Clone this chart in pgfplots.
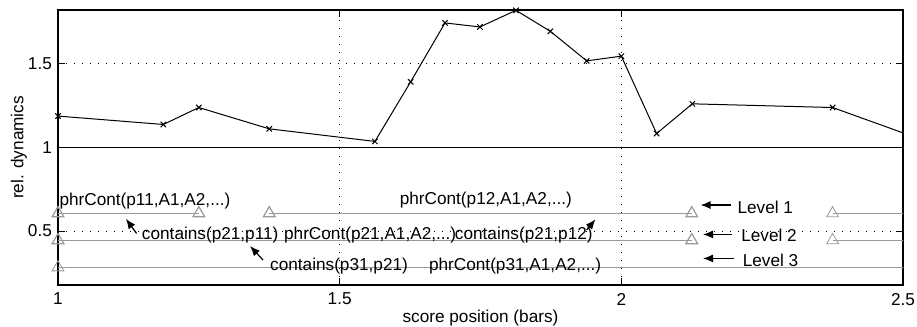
\documentclass[border=0pt]{standalone}
\usepackage{fontspec}
\setmainfont{Liberation Sans}
\usepackage{pgfplots}
\pgfplotsset{compat=1.18}
\usetikzlibrary{arrows.meta}
\definecolor{lgray}{gray}{0.6}
\begin{document}
\fontsize{8.6}{10}\selectfont
\begin{tikzpicture}
\begin{axis}[
  scale only axis, width=422.5pt, height=137.5pt,
  xmin=1, xmax=2.5, ymin=0.1786, ymax=1.817,
  xtick={1,1.5,2,2.5}, ytick={0.5,1,1.5},
  xticklabels={1,1.5,2,2.5}, yticklabels={0.5,1,1.5},
  tick align=inside, major tick length=3.5pt,
  tick style={black, line width=0.5pt},
  axis line style={line width=0.7pt},
  grid=major,
  major grid style={black, line width=0.5pt, dash pattern=on 0.6pt off 3.4pt},
  xlabel={score position (bars)}, ylabel={rel. dynamics},
  tick label style={font=\fontsize{8.6}{10}\selectfont},
  label style={font=\fontsize{8.6}{10}\selectfont},
  xlabel style={at={(axis description cs:0.5,-0.12)}, anchor=center},
  ylabel style={at={(axis description cs:-0.04615,0.5)}, anchor=center},
  xticklabel style={yshift=-1pt},
  /pgf/number format/assume math mode=true,
]
\coordinate (O) at (rel axis cs:0,0);
% reference line at 1
\addplot[black, line width=0.6pt, no marks] coordinates {(1,1) (2.5,1)};
% main curve
\addplot[black, line width=0.5pt, mark=x, mark size=1.9pt] coordinates {
 (1,1.185) (1.187,1.135) (1.25,1.236) (1.375,1.109) (1.5626,1.034)
 (1.626,1.389) (1.687,1.740) (1.749,1.716) (1.813,1.815) (1.874,1.690)
 (1.9385,1.514) (2.0,1.542) (2.0626,1.081) (2.126,1.258) (2.375,1.236)
};
\addplot[black, line width=0.5pt, no marks] coordinates {(2.375,1.236) (2.5,1.085)};
% Level 1
\addplot[lgray, line width=0.6pt, mark=triangle, mark size=3.4pt] coordinates {(1,0.605) (1.25,0.605)};
\addplot[lgray, line width=0.6pt, mark=triangle, mark size=3.4pt] coordinates {(1.375,0.605) (2.125,0.605)};
\addplot[lgray, line width=0.6pt, no marks] coordinates {(2.375,0.605) (2.6,0.605)};
\addplot[lgray, only marks, mark=triangle, mark size=3.4pt] coordinates {(2.375,0.605)};
% Level 2
\addplot[lgray, line width=0.6pt, mark=triangle, mark size=3.4pt] coordinates {(1,0.445) (2.125,0.445)};
\addplot[lgray, line width=0.6pt, no marks] coordinates {(2.375,0.445) (2.6,0.445)};
\addplot[lgray, only marks, mark=triangle, mark size=3.4pt] coordinates {(2.375,0.445)};
% Level 3
\addplot[lgray, line width=0.6pt, no marks] coordinates {(1,0.283) (2.6,0.283)};
\addplot[lgray, only marks, mark=triangle, mark size=3.4pt] coordinates {(1,0.283)};
% annotations
\node[anchor=west, inner sep=0pt] at (axis cs:1.002,0.679) {phrCont(p11,A1,A2,...)};
\node[anchor=west, inner sep=0pt] at (axis cs:1.606,0.685) {phrCont(p12,A1,A2,...)};
\node[anchor=west, inner sep=0pt] at (axis cs:1.1484,0.476) {contains(p21,p11)};
\node[anchor=west, inner sep=0pt] at (axis cs:1.4007,0.476) {phrCont(p21,A1,A2,...)};
\node[anchor=west, inner sep=0pt] at (axis cs:1.704,0.476) {contains(p21,p12)};
\node[anchor=west, inner sep=0pt] at (axis cs:1.376,0.292) {contains(p31,p21)};
\node[anchor=west, inner sep=0pt] at (axis cs:1.658,0.292) {phrCont(p31,A1,A2,...)};
\node[anchor=west, inner sep=0pt] at (axis cs:2.2057,0.639) {Level 1};
\node[anchor=west, inner sep=0pt] at (axis cs:2.2122,0.476) {Level 2};
\node[anchor=west, inner sep=0pt] at (axis cs:2.215,0.327) {Level 3};
\draw[line width=0.6pt, -{Latex[length=5pt,width=4pt]}] (axis cs:1.1395,0.486) -- (axis cs:1.1206,0.573);
\draw[line width=0.6pt, -{Latex[length=5pt,width=4pt]}] (axis cs:1.364,0.327) -- (axis cs:1.341,0.411);
\draw[line width=0.6pt, -{Latex[length=5pt,width=4pt]}] (axis cs:1.9385,0.506) -- (axis cs:1.954,0.570);
\draw[line width=0.6pt, -{Latex[length=5pt,width=4pt]}] (axis cs:2.194,0.655) -- (axis cs:2.1406,0.655);
\draw[line width=0.6pt, -{Latex[length=5pt,width=4pt]}] (axis cs:2.1968,0.480) -- (axis cs:2.145,0.480);
\draw[line width=0.6pt, -{Latex[length=5pt,width=4pt]}] (axis cs:2.2004,0.337) -- (axis cs:2.145,0.337);
\end{axis}
\pgfresetboundingbox
\path[use as bounding box] ([xshift=-29pt,yshift=-21pt]O) rectangle ([xshift=429.5pt,yshift=142.5pt]O);
\end{tikzpicture}
\end{document}
